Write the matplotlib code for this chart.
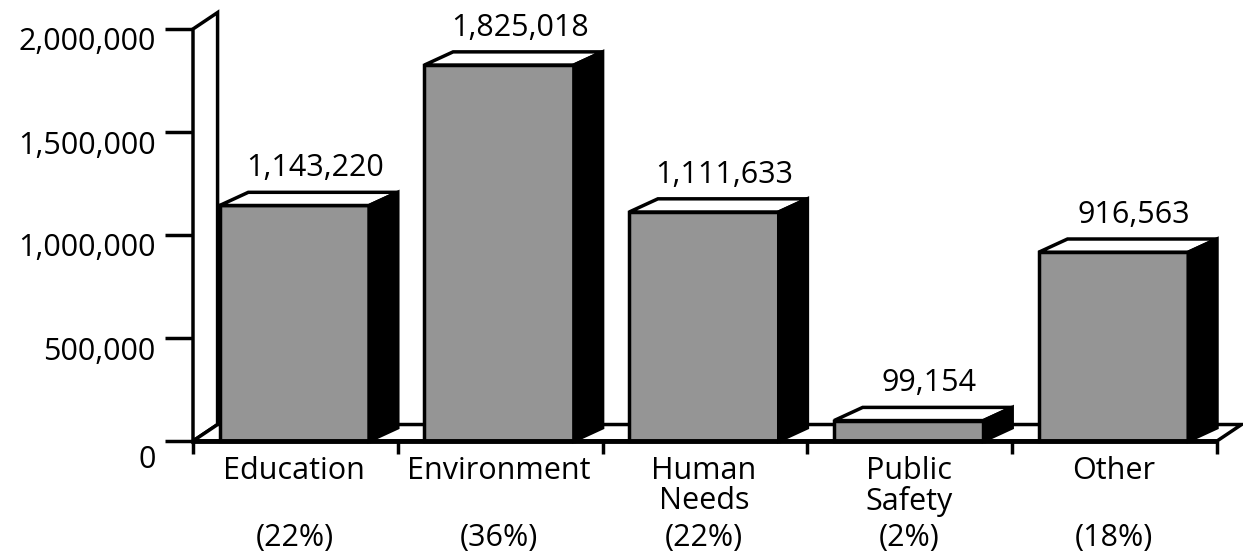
import matplotlib
matplotlib.use('Agg')
import matplotlib.pyplot as plt
import matplotlib.transforms as mtrans
from matplotlib.patches import Polygon, Rectangle

# values
categories = ['Education', 'Environment', 'Human\nNeeds', 'Public\nSafety', 'Other']
values = [1143220, 1825018, 1111633, 99154, 916563]
percents = ['(22%)', '(36%)', '(22%)', '(2%)', '(18%)']
yticks = [0, 500000, 1000000, 1500000, 2000000]

plt.rcParams['font.family'] = ['Open Sans', 'DejaVu Sans']
fs = 22

fig = plt.figure(figsize=(12.43, 5.54), dpi=100)
ax = fig.add_axes([193 / 1243, 113 / 554, 1024 / 1243, 412 / 554])
ax.set_xlim(0, len(categories))
ax.set_ylim(0, 2000000)
for s in ax.spines.values():
    s.set_visible(False)

# depth offsets (x in category units, y in value units)
wdx, wdy = 0.12, 80000
bdx, bdy = 0.14, 64000
lw = 2.5

# back wall and floor
n = len(categories)
ax.add_patch(Polygon([(0, 0), (0, 2000000), (wdx, 2000000 + wdy), (wdx, wdy)],
                     closed=True, facecolor='white', edgecolor='black', lw=lw,
                     clip_on=False, zorder=1, joinstyle='miter'))
ax.add_patch(Polygon([(0, 0), (n, 0), (n + wdx, wdy), (wdx, wdy)],
                     closed=True, facecolor='white', edgecolor='black', lw=lw,
                     clip_on=False, zorder=1, joinstyle='miter'))
ax.plot([0, n], [0, 0], color='black', lw=3.5, clip_on=False, zorder=5,
        solid_capstyle='butt')

# 3d bars
x0s = [i + 0.13 for i in range(n)]
w = 0.73
for x0, v in zip(x0s, values):
    ax.add_patch(Rectangle((x0, 0), w, v, facecolor='#959595', edgecolor='black',
                           lw=lw, clip_on=False, zorder=3, joinstyle='miter'))
    ax.add_patch(Polygon([(x0, v), (x0 + w, v), (x0 + w + bdx, v + bdy), (x0 + bdx, v + bdy)],
                         closed=True, facecolor='white', edgecolor='black', lw=lw,
                         clip_on=False, zorder=3, joinstyle='miter'))
    ax.add_patch(Polygon([(x0 + w, 0), (x0 + w + bdx, bdy), (x0 + w + bdx, v + bdy), (x0 + w, v)],
                         closed=True, facecolor='black', edgecolor='black', lw=lw,
                         clip_on=False, zorder=3, joinstyle='miter'))
    ax.annotate(f'{v:,}', (x0 + w / 2 + 0.1, v), xytext=(0, 21), textcoords='offset points',
                ha='center', va='baseline', fontsize=fs)

# y axis ticks
ax.set_yticks(yticks)
ax.set_yticklabels([f'{t:,}' for t in yticks], fontsize=fs)
ax.tick_params(axis='y', length=20, width=lw, pad=7, direction='out')
for i, lab in enumerate(ax.get_yticklabels()):
    dy = -15 if i == 0 else -10
    lab.set_transform(lab.get_transform() +
                      mtrans.ScaledTranslation(0, dy / 100, fig.dpi_scale_trans))

# category ticks and labels
centers = [x0 + w / 2 for x0 in x0s]
ax.set_xticks(centers)
ax.set_xticklabels(categories, fontsize=fs, linespacing=1.0, va='top')
ax.tick_params(axis='x', which='major', length=0, pad=11)
ax.set_xticks(range(n + 1), minor=True)
ax.tick_params(axis='x', which='minor', length=9, width=lw, direction='out')
for c, p in zip(centers, percents):
    ax.annotate(p, (c, 0), xycoords=('data', 'axes fraction'), xytext=(0, -70),
                textcoords='offset points', ha='center', va='center', fontsize=fs)

fig.savefig('out.png', dpi=100)
